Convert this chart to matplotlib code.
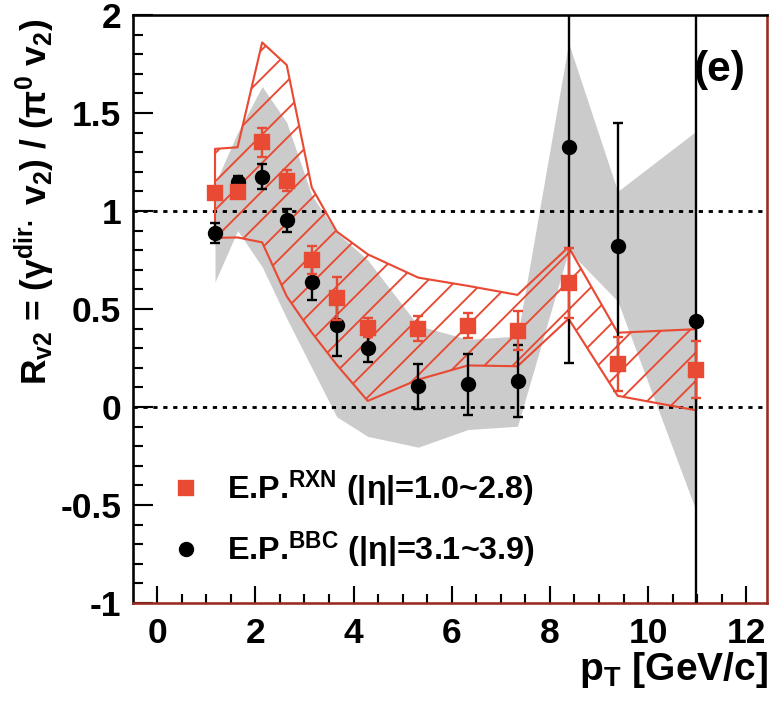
import numpy as np
import matplotlib.pyplot as plt
from matplotlib.ticker import MultipleLocator, FuncFormatter

plt.rcParams['font.family'] = ['Liberation Sans', 'DejaVu Sans']
plt.rcParams['font.weight'] = 'bold'
plt.rcParams['mathtext.fontset'] = 'custom'
plt.rcParams['mathtext.rm'] = 'Liberation Sans:bold'
plt.rcParams['mathtext.bf'] = 'Liberation Sans:bold'
plt.rcParams['mathtext.it'] = 'Liberation Sans:bold'
plt.rcParams['mathtext.default'] = 'bf'
plt.rcParams['hatch.linewidth'] = 0.8

# data
pt = np.array([1.18, 1.64, 2.14, 2.64, 3.15, 3.66, 4.29, 5.32, 6.33, 7.34, 8.38, 9.38, 10.98])

rxn = np.array([1.09, 1.095, 1.35, 1.155, 0.75, 0.555, 0.405, 0.40, 0.415, 0.39, 0.633, 0.218, 0.19])
rxn_err = np.array([0.03, 0.03, 0.075, 0.055, 0.07, 0.11, 0.05, 0.062, 0.065, 0.10, 0.18, 0.137, 0.145])
rxn_sys = np.array([0.227, 0.23, 0.51, 0.59, 0.37, 0.34, 0.374, 0.26, 0.203, 0.182, 0.183, 0.161, 0.207])

bbc = np.array([0.888, 1.15, 1.175, 0.952, 0.64, 0.42, 0.30, 0.105, 0.115, 0.132, 1.327, 0.82, 0.438])
bbc_err = np.array([0.05, 0.03, 0.065, 0.06, 0.095, 0.16, 0.07, 0.113, 0.157, 0.185, 1.1, 0.63, 3.0])
bbc_sys = np.array([0.25, 0.25, 0.46, 0.50, 0.44, 0.47, 0.45, 0.31, 0.23, 0.23, 0.53, 0.28, 0.97])

labels = [r'E.P.$^{RXN}$ (|η|=1.0~2.8)', r'E.P.$^{BBC}$ (|η|=3.1~3.9)']

red = '#e84a34'
gray = '#cbcbcb'
dark_red = '#9a2a22'

dpi = 170
fig = plt.figure(figsize=(771 / dpi, 704 / dpi), dpi=dpi)
ax = fig.add_axes([133 / 771, 1 - 603 / 704, 634 / 771, 588 / 704])

ax.fill_between(pt, bbc - bbc_sys, bbc + bbc_sys, color=gray, lw=0, zorder=1)
ax.axhline(1, color='k', ls=(0, (1.5, 2.0)), lw=1.2, zorder=2)
ax.axhline(0, color='k', ls=(0, (1.5, 2.0)), lw=1.2, zorder=2)
ax.fill_between(pt, rxn - rxn_sys, rxn + rxn_sys, facecolor='none', edgecolor=red,
                hatch='//', lw=0.9, zorder=3)

ax.errorbar(pt, bbc, yerr=bbc_err, fmt='none', ecolor='k', elinewidth=1.0,
            capsize=2.2, capthick=1.0, zorder=4)
h_bbc, = ax.plot(pt, bbc, 'o', color='k', ms=5.5, zorder=5)
ax.errorbar(pt, rxn, yerr=rxn_err, fmt='none', ecolor=red, elinewidth=1.0,
            capsize=2.2, capthick=1.0, zorder=6)
h_rxn, = ax.plot(pt, rxn, 's', color=red, ms=6, zorder=7)

ax.set_xlim(-0.49, 12.42)
ax.set_ylim(-1, 2)
ax.xaxis.set_major_locator(MultipleLocator(2))
ax.xaxis.set_minor_locator(MultipleLocator(0.5))
ax.yaxis.set_major_locator(MultipleLocator(0.5))
ax.yaxis.set_minor_locator(MultipleLocator(0.1))
fmt = FuncFormatter(lambda v, _: f'{v:g}')
ax.xaxis.set_major_formatter(fmt)
ax.yaxis.set_major_formatter(fmt)
ax.tick_params(which='both', direction='in', top=False, right=False, width=0.9)
ax.tick_params(axis='x', which='major', length=7, labelsize=15, pad=6)
ax.tick_params(axis='x', which='minor', length=4)
ax.tick_params(axis='y', which='major', length=8.5, labelsize=15, pad=5)
ax.tick_params(axis='y', which='minor', length=4.2)

for s in ['left', 'top']:
    ax.spines[s].set_linewidth(1.1)
for s in ['right', 'bottom']:
    ax.spines[s].set_color(dark_red)
    ax.spines[s].set_linewidth(1.1)

ax.legend([h_rxn, h_bbc], labels, loc='center left', bbox_to_anchor=(0.056, 0.142),
          frameon=False, fontsize=13.7, handlelength=1.1, handletextpad=0.7,
          labelspacing=0.6, borderpad=0, borderaxespad=0)

ax.text(0.926, 0.906, '(e)', transform=ax.transAxes, ha='center', va='center',
        fontsize=18, weight='bold')

fig.text(35 / 771, 1 - 18 / 704, r'$R_{v2}$ = (γ$^{dir.}$ $v_2$) / (π$^0$ $v_2$)',
         rotation=90, ha='center', va='top', fontsize=15)
fig.text(768 / 771, 1 - 670 / 704, r'p$_T$ [GeV/c]', ha='right', va='center', fontsize=16.5)

fig.savefig('out.png', dpi=dpi)
